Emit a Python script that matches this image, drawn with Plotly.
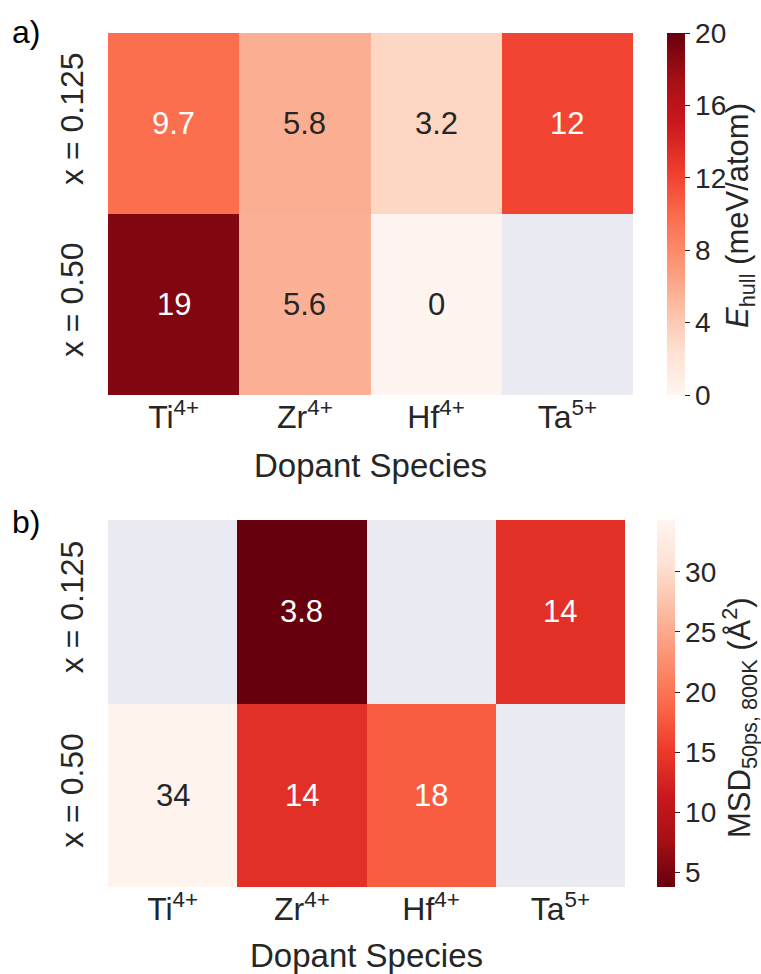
import plotly.graph_objects as go

# ---- data ----
dopants = ["Ti<sup>4+</sup>", "Zr<sup>4+</sup>", "Hf<sup>4+</sup>", "Ta<sup>5+</sup>"]
rows = ["x = 0.125", "x = 0.50"]

# E_hull (meV/atom); None = not computed
ehull_x0125 = [9.7, 5.8, 3.2, 12]
ehull_x050 = [19, 5.6, 0, None]

# MSD over 50 ps at 800 K (Å^2)
msd_x0125 = [None, 3.8, None, 14]
msd_x050 = [34, 14, 18, None]

ehull_ticks = [0, 4, 8, 12, 16, 20]
msd_ticks = [5, 10, 15, 20, 25, 30]

# ---- style ----
W, H = 761, 974
FONT = "Liberation Sans, Arial, sans-serif"
DARK = "#262626"
NAN_BG = "#EAEAF2"
REDS = [(255, 245, 240), (254, 224, 210), (252, 187, 161), (252, 146, 114),
        (251, 106, 74), (239, 59, 44), (203, 24, 29), (165, 15, 21), (103, 0, 13)]
reds_scale = [[i / (len(REDS) - 1), "rgb(%d,%d,%d)" % c] for i, c in enumerate(REDS)]


def px_x(p):
    return p / W


def px_y(p):
    return 1 - p / H


def cmap(t):
    t = min(max(t, 0.0), 1.0) * (len(REDS) - 1)
    i = min(int(t), len(REDS) - 2)
    f = t - i
    return tuple(REDS[i][k] + (REDS[i + 1][k] - REDS[i][k]) * f for k in range(3))


def luminance(rgb):
    def ch(c):
        c = c / 255
        return c / 12.92 if c <= 0.03928 else ((c + 0.055) / 1.055) ** 2.4
    r, g, b = (ch(c) for c in rgb)
    return 0.2126 * r + 0.7152 * g + 0.0722 * b


def fmt(v):
    return format(v, ".2g")


fig = go.Figure()

panels = [
    dict(z=[ehull_x0125, ehull_x050], zmin=0, zmax=20, rev=False, ticks=ehull_ticks,
         xa="x", ya="y", xdom=[px_x(108), px_x(633)], top=33, bot=395, cbx=667),
    dict(z=[msd_x0125, msd_x050], zmin=3.8, zmax=34.3, rev=True, ticks=msd_ticks,
         xa="x2", ya="y2", xdom=[px_x(108), px_x(625)], top=520, bot=887, cbx=657),
]

annotations = []
for p in panels:
    fig.add_trace(go.Heatmap(
        z=p["z"], x=dopants, y=rows, xaxis=p["xa"], yaxis=p["ya"],
        colorscale=reds_scale, reversescale=p["rev"], zmin=p["zmin"], zmax=p["zmax"],
        hoverongaps=False,
        colorbar=dict(
            x=px_x(p["cbx"]), xanchor="left", xpad=0, ypad=0,
            y=px_y((p["top"] + p["bot"]) / 2), yanchor="middle",
            len=(p["bot"] - p["top"]) / H, lenmode="fraction",
            thickness=18, outlinewidth=0,
            tickvals=p["ticks"], ticks="outside", ticklen=5, tickwidth=1,
            tickcolor=DARK, tickfont=dict(family=FONT, size=28, color=DARK),
        ),
    ))
    # value labels, text colour chosen from the cell colour
    for r, row in enumerate(p["z"]):
        for c, v in enumerate(row):
            if v is None:
                continue
            t = (v - p["zmin"]) / (p["zmax"] - p["zmin"])
            if p["rev"]:
                t = 1 - t
            col = DARK if luminance(cmap(t)) > 0.408 else "white"
            annotations.append(dict(
                x=dopants[c], y=rows[r], xref=p["xa"], yref=p["ya"], text=fmt(v),
                showarrow=False, font=dict(family=FONT, size=31, color=col)))

axis_common = dict(type="category", showgrid=False, zeroline=False, showline=False,
                   ticks="", automargin=False,
                   tickfont=dict(family=FONT, size=32, color=DARK))

fig.update_layout(
    width=W, height=H,
    margin=dict(l=0, r=0, t=0, b=0),
    paper_bgcolor="white", plot_bgcolor=NAN_BG,
    xaxis=dict(axis_common, domain=panels[0]["xdom"], anchor="y"),
    yaxis=dict(axis_common, domain=[px_y(395), px_y(33)], anchor="x",
               categoryorder="array", categoryarray=rows[::-1], tickangle=-90,
               ticklabelstandoff=18),
    xaxis2=dict(axis_common, domain=panels[1]["xdom"], anchor="y2"),
    yaxis2=dict(axis_common, domain=[px_y(887), px_y(520)], anchor="x2",
                categoryorder="array", categoryarray=rows[::-1], tickangle=-90,
                ticklabelstandoff=18),
    showlegend=False,
)

# axis titles, colorbar titles and panel letters
title_font = dict(family=FONT, size=33, color=DARK)
annotations += [
    dict(x=px_x(370), y=px_y(465), xref="paper", yref="paper", text="Dopant Species",
         showarrow=False, font=title_font, xanchor="center", yanchor="middle"),
    dict(x=px_x(366), y=px_y(955), xref="paper", yref="paper", text="Dopant Species",
         showarrow=False, font=title_font, xanchor="center", yanchor="middle"),
    dict(x=px_x(740), y=px_y(216), xref="paper", yref="paper",
         text="<i>E</i><sub>hull</sub> (meV/atom)", textangle=-90,
         showarrow=False, font=dict(family=FONT, size=31, color=DARK),
         xanchor="center", yanchor="middle"),
    dict(x=px_x(739), y=px_y(718), xref="paper", yref="paper",
         text="MSD<sub>50ps, 800K</sub> (Å<sup>2</sup>)", textangle=-90,
         showarrow=False, font=dict(family=FONT, size=31, color=DARK),
         xanchor="center", yanchor="middle"),
    dict(x=px_x(26), y=px_y(32), xref="paper", yref="paper", text="a)",
         showarrow=False, font=dict(family=FONT, size=32, color="black"),
         xanchor="center", yanchor="middle"),
    dict(x=px_x(26), y=px_y(522), xref="paper", yref="paper", text="b)",
         showarrow=False, font=dict(family=FONT, size=32, color="black"),
         xanchor="center", yanchor="middle"),
]
fig.update_layout(annotations=annotations)

fig.write_html("out.html")
